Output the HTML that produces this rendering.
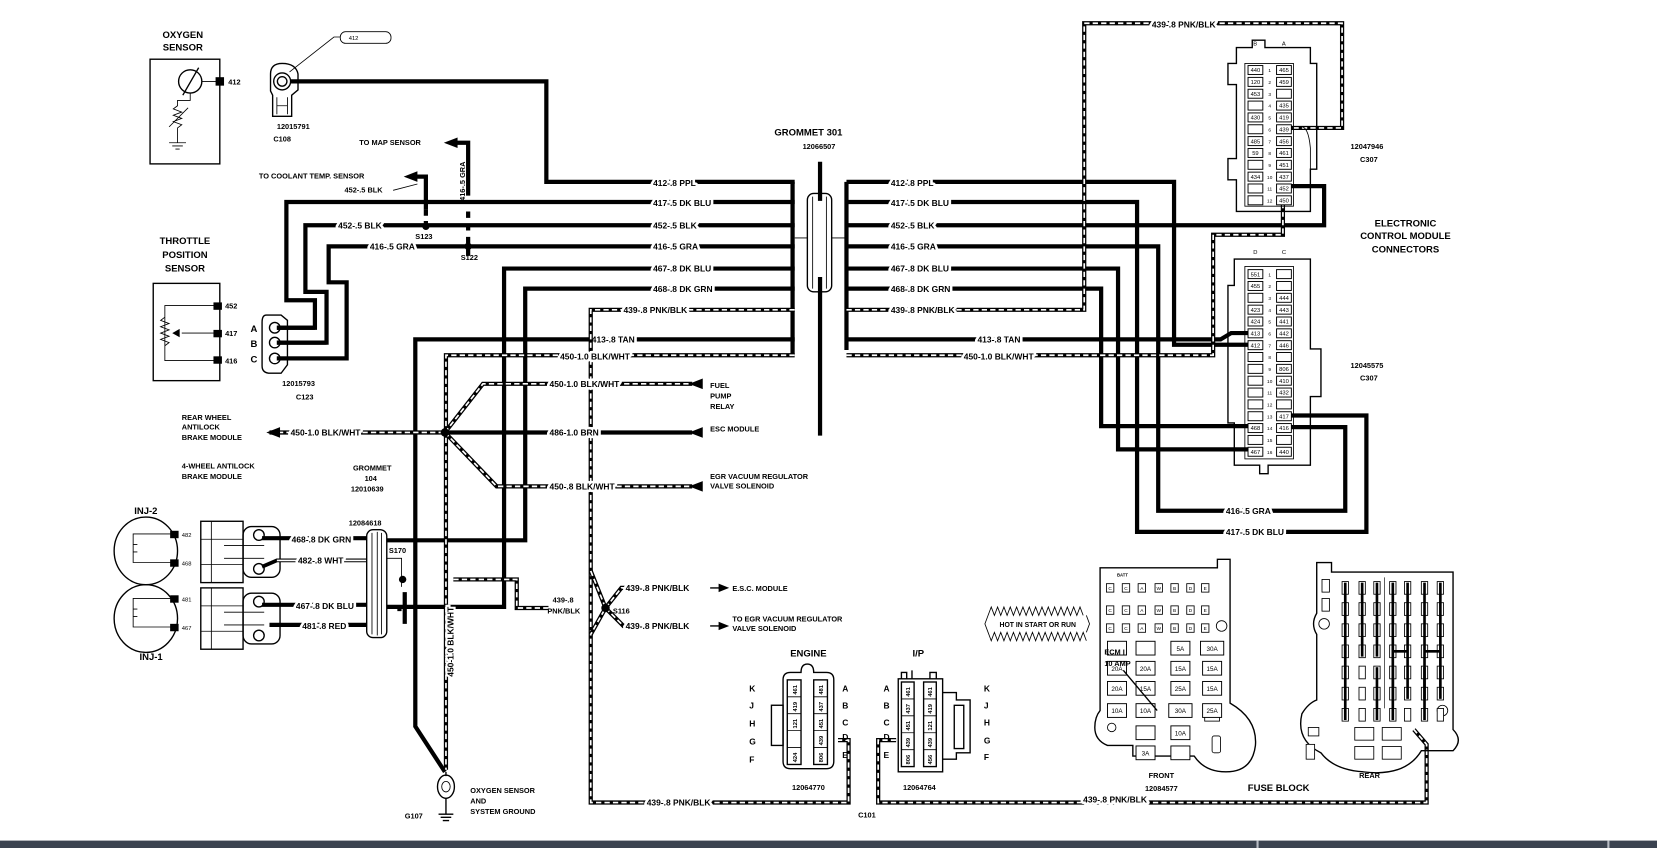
<!DOCTYPE html>
<html><head><meta charset="utf-8"><style>
html,body{margin:0;padding:0;background:#fff;width:1657px;height:848px;overflow:hidden}
svg{display:block}
.w{stroke:#000;stroke-width:4;fill:none}
.wt{stroke:#000;stroke-width:4.5;fill:none}
.dw{stroke:#fff;stroke-width:1.6;fill:none;stroke-dasharray:5 3}
.th{stroke:#000;stroke-width:1.3;fill:none}
.tn{stroke:#000;stroke-width:0.8;fill:none}
text{font-family:"Liberation Sans",sans-serif;font-weight:bold;fill:#000}
.l{font-size:8px;paint-order:stroke;stroke:#fff;stroke-width:5px;stroke-linejoin:round}
.s{font-size:7px}
.m{font-size:9px}
.b{font-size:11px}
.p{font-size:5.5px;font-weight:normal}
</style></head><body>
<svg width="1657" height="848" viewBox="0 0 1568 802" preserveAspectRatio="none" xmlns="http://www.w3.org/2000/svg">
<defs>
<path id="d439L" d="M752,293 H559 V759 H803 V700 H793"/>
<path id="d450L" d="M752,336 H422 V728"/>
<path id="d450r" d="M255,409 H421"/>
<path id="dfp" d="M421,409 L457,363 H655"/>
<path id="degr" d="M421,409 L470,460 H655"/>
<path id="d439s" d="M429,548 H489 V575 H519"/>
<path id="d439b" d="M848,700 H831 V759 H1350 V704 L1338,690"/>
<path id="d439R" d="M801,293 H1026 V22 H1270 V121 H1222"/>
<path id="d450R" d="M801,336 H1148 V222 H1214 V190"/>
<path id="desc" d="M573,575 L588,556 H602"/>
<path id="degr2" d="M573,575 L590,592 H602"/>
<path id="d439u" d="M559,540 L573,575 L559,600"/>
</defs>

<rect x="0" y="795" width="1568" height="7" fill="#3b4350"/>
<rect x="1189" y="795" width="2" height="7" fill="#b8bcc4"/>
<rect x="1521" y="795" width="2" height="7" fill="#b8bcc4"/>

<text class="m" x="173" y="36" text-anchor="middle">OXYGEN</text>
<text class="m" x="173" y="48" text-anchor="middle">SENSOR</text>
<rect x="142" y="56" width="66" height="99" class="th"/>
<circle cx="180" cy="77" r="11" class="th"/>
<line x1="173" y1="90" x2="188" y2="64" class="th"/>
<path d="M191,77 H205 M180,88 V95 L168,95 V100 L164,103 L172,106 L164,109 L172,112 L164,115 L172,118 L168,121 V130 M160,135 H176 M163,138 H173 M166,141 H170 M168,130 V135 M160,120 L178,102" class="tn"/>
<rect x="204" y="73" width="8" height="8"/>
<text class="s" x="216" y="80">412</text>
<path d="M256,70 Q256,60 267,60 Q280,60 282,70 L282,85 L276,90 L276,110 L258,110 L258,90 L256,86 Z" class="th" fill="#fff"/>
<circle cx="267" cy="77" r="8" class="th"/><circle cx="267" cy="77" r="4.5" class="th"/>
<path d="M262,92 V108 M272,92 V108 M262,100 H272" class="tn"/>
<rect x="322" y="30" width="48" height="11" rx="5" class="tn"/>
<text class="p" x="330" y="38">412</text>
<path d="M322,35 H316 L274,68" class="tn"/>
<text class="s" x="262" y="122">12015791</text>
<text class="s" x="267" y="134" text-anchor="middle">C108</text>
<path d="M275,77 H517 V172 H752" class="w"/>

<text class="s" x="340" y="137">TO MAP SENSOR</text>
<path d="M443,185 V135 H430" class="w"/><path d="M433,130 L420,135 L433,140 Z"/>
<path d="M443,200 V244" class="w" stroke-dasharray="6 6"/>
<text class="s" transform="translate(440,190) rotate(-90)">416-.5 GRA</text>
<text class="s" x="245" y="169">TO COOLANT TEMP. SENSOR</text>
<path d="M403,198 V167 H392" class="w"/><path d="M395,162 L382,167 L395,172 Z"/>
<path d="M403,198 V214" class="w" stroke-dasharray="6 5"/>
<text class="s" x="326" y="182">452-.5 BLK</text>
<path d="M372,180 L395,174" class="tn"/>
<circle cx="403" cy="214" r="3.5"/><circle cx="443" cy="233" r="3.5"/>
<text class="s" x="393" y="226">S123</text>
<text class="s" x="436" y="246">S122</text>

<path d="M752,191 H271 V284 H298 V310 H262" class="w"/>
<path d="M752,213 H289 V276 H309 V324 H262" class="w"/>
<path d="M752,233 H311 V267 H328 V339 H262" class="w"/>
<text class="l" x="618" y="176">412-.8 PPL</text>
<text class="l" x="618" y="195">417-.5 DK BLU</text>
<text class="l" x="618" y="216">452-.5 BLK</text>
<text class="l" x="618" y="236">416-.5 GRA</text>
<text class="l" x="320" y="216">452-.5 BLK</text>
<text class="l" x="350" y="236">416-.5 GRA</text>

<text class="m" x="175" y="231" text-anchor="middle">THROTTLE</text>
<text class="m" x="175" y="244" text-anchor="middle">POSITION</text>
<text class="m" x="175" y="257" text-anchor="middle">SENSOR</text>
<rect x="145" y="268" width="63" height="92" class="th"/>
<path d="M204,289 H156 V341 H204 M204,315 H172 M156,300 L152,303 L160,306 L152,309 L160,312 L152,315 L160,318 L152,321 L160,324 L156,327" class="tn"/>
<path d="M163,315 L170,311 V319 Z"/>
<rect x="202" y="286" width="8" height="7"/><rect x="202" y="312" width="8" height="7"/><rect x="202" y="337" width="8" height="7"/>
<text class="s" x="213" y="292">452</text><text class="s" x="213" y="318">417</text><text class="s" x="213" y="344">416</text>
<path d="M252,298 Q248,298 248,305 V346 Q248,353 256,353 H266 L272,345 V303 L266,298 Z" class="th" fill="#fff"/>
<circle cx="260" cy="310" r="5" class="th"/><circle cx="260" cy="324" r="5" class="th"/><circle cx="260" cy="339" r="5" class="th"/>
<path d="M262,310 H298 M262,324 H309 M262,339 H328" class="w"/>
<text class="m" x="237" y="314">A</text><text class="m" x="237" y="328">B</text><text class="m" x="237" y="343">C</text>
<text class="s" x="267" y="365">12015793</text>
<text class="s" x="280" y="378">C123</text>

<text class="m" x="765" y="128" text-anchor="middle">GROMMET 301</text>
<text class="s" x="775" y="141" text-anchor="middle">12066507</text>
<path d="M750,172 V336 M801,172 V331" class="w" stroke-width="3"/>
<path d="M752,225 H764 M787,225 H801" class="tn"/>
<rect x="764" y="183" width="23" height="93" rx="6" class="th" fill="#fff"/>
<path d="M769,186 V273 M782,186 V273" class="tn"/>
<path d="M776,153 V190 M776,262 V412" class="w"/>

<path d="M752,321 H393 V687 L421,730" class="w"/>
<text class="l" x="560" y="324">413-.8 TAN</text>
<path d="M752,254 H477 V574 H366" class="w"/>
<path d="M752,273 H497 V511 H366" class="w"/>
<text class="l" x="618" y="257">467-.8 DK BLU</text>
<text class="l" x="618" y="276">468-.8 DK GRN</text>
<use href="#d439L" class="w"/><use href="#d439L" class="dw"/>
<use href="#d450L" class="w"/><use href="#d450L" class="dw"/>
<text class="l" x="590" y="296">439-.8 PNK/BLK</text>
<text class="l" x="530" y="340">450-1.0 BLK/WHT</text>
<text class="s" transform="translate(429,640) rotate(-90)" style="font-size:8px;paint-order:stroke;stroke:#fff;stroke-width:4px">450-1.0 BLK/WHT</text>

<use href="#d450r" class="w"/><use href="#d450r" class="dw"/>
<path d="M421,409 H655" class="w"/>
<use href="#dfp" class="w"/><use href="#dfp" class="dw"/>
<use href="#degr" class="w"/><use href="#degr" class="dw"/>
<circle cx="421" cy="409" r="4"/>
<path d="M265,404 L252,409 L265,414 Z"/>
<path d="M665,358 L652,363 L665,368 Z M665,404 L652,409 L665,414 Z M665,455 L652,460 L665,465 Z"/>
<text class="l" x="275" y="412">450-1.0 BLK/WHT</text>
<text class="l" x="520" y="366">450-1.0 BLK/WHT</text>
<text class="l" x="520" y="412">486-1.0 BRN</text>
<text class="l" x="520" y="463">450-.8 BLK/WHT</text>
<text class="s" x="672" y="367">FUEL</text><text class="s" x="672" y="377">PUMP</text><text class="s" x="672" y="387">RELAY</text>
<text class="s" x="672" y="408">ESC MODULE</text>
<text class="s" x="672" y="453">EGR VACUUM REGULATOR</text><text class="s" x="672" y="462">VALVE SOLENOID</text>
<text class="s" x="172" y="397">REAR WHEEL</text><text class="s" x="172" y="406">ANTILOCK</text><text class="s" x="172" y="416">BRAKE MODULE</text>
<text class="s" x="172" y="443">4-WHEEL ANTILOCK</text><text class="s" x="172" y="453">BRAKE MODULE</text>
<text class="s" x="334" y="445">GROMMET</text><text class="s" x="345" y="455">104</text><text class="s" x="332" y="465">12010639</text>

<text class="m" x="138" y="486" text-anchor="middle">INJ-2</text>
<text class="m" x="143" y="624" text-anchor="middle">INJ-1</text>
<ellipse cx="138" cy="521" rx="30" ry="32" class="th"/>
<ellipse cx="138" cy="585" rx="30" ry="32" class="th"/>
<path d="M165,505 H126 V532 H165 M165,566 H126 V593 H165 M126,515 h4 M126,522 h4 M126,576 h4 M126,583 h4" class="tn"/>
<rect x="161" y="502" width="8" height="7"/><rect x="161" y="529" width="8" height="7"/>
<rect x="161" y="563" width="8" height="7"/><rect x="161" y="590" width="8" height="7"/>
<text class="p" x="172" y="508">482</text><text class="p" x="172" y="535">468</text>
<text class="p" x="172" y="569">481</text><text class="p" x="172" y="596">467</text>
<g class="th" fill="#fff">
<rect x="190" y="493" width="40" height="58"/><rect x="230" y="498" width="35" height="48" rx="8"/>
<rect x="190" y="556" width="40" height="58"/><rect x="230" y="561" width="35" height="48" rx="8"/>
</g>
<path d="M200,493 V551 M190,510 H230 M190,534 H230 M200,556 V614 M190,573 H230 M190,597 H230 M212,516 H250 M212,528 H250 M212,579 H250 M212,591 H250" class="tn"/>
<circle cx="245" cy="506" r="5" class="th"/><circle cx="245" cy="538" r="5" class="th"/>
<circle cx="245" cy="569" r="5" class="th"/><circle cx="245" cy="601" r="5" class="th"/>
<path d="M248,509 H347 M248,572 H347 M255,591 H347" class="w"/>
<path d="M248,536 L262,530 H347" stroke="#000" stroke-width="3.5" fill="none"/><path d="M262,530 H347" stroke="#fff" stroke-width="1.5"/>
<text class="l" x="276" y="513">468-.8 DK GRN</text>
<text class="l" x="282" y="533">482-.8 WHT</text>
<text class="l" x="280" y="576">467-.8 DK BLU</text>
<text class="l" x="286" y="595">481-.8 RED</text>
<text class="s" x="330" y="497">12084618</text>
<rect x="347" y="501" width="19" height="102" rx="6" class="th" fill="#fff"/>
<path d="M352,504 V600 M357,503 V601 M361,504 V600" class="tn"/>
<text class="s" x="368" y="523">S170</text>
<path d="M366,528 H380 V555" class="tn"/>
<circle cx="381" cy="548" r="3.5"/>
<path d="M383,560 V590 M378,575 V578" class="w"/>
<use href="#d439s" class="w"/><use href="#d439s" class="dw"/>
<use href="#d439u" class="w"/><use href="#d439u" class="dw"/>
<use href="#desc" class="w"/><use href="#desc" class="dw"/>
<use href="#degr2" class="w"/><use href="#degr2" class="dw"/>
<circle cx="573" cy="575" r="4"/>
<text class="s" x="523" y="570">439-.8</text><text class="s" x="518" y="580">PNK/BLK</text>
<text class="s" x="580" y="580">S116</text>
<text class="l" x="592" y="559">439-.8 PNK/BLK</text>
<text class="l" x="592" y="595">439-.8 PNK/BLK</text>
<path d="M672,556 H682 M672,592 H682" class="th"/><path d="M680,552 L690,556 L680,560 Z M680,588 L690,592 L680,596 Z"/>
<text class="s" x="693" y="559">E.S.C. MODULE</text>
<text class="s" x="693" y="588">TO EGR VACUUM REGULATOR</text><text class="s" x="693" y="597">VALVE SOLENOID</text>

<ellipse cx="422" cy="744" rx="8" ry="11" class="th"/><ellipse cx="422" cy="744" rx="4" ry="5" class="tn"/>
<path d="M422,730 V734 M422,755 V770 M415,770 H429 M417,773 H427 M419,776 H425" class="th"/>
<text class="s" x="383" y="774">G107</text>
<text class="s" x="445" y="750">OXYGEN SENSOR</text><text class="s" x="445" y="760">AND</text><text class="s" x="445" y="770">SYSTEM GROUND</text>

<text class="m" x="765" y="621" text-anchor="middle">ENGINE</text>
<text class="m" x="869" y="621" text-anchor="middle">I/P</text>
<path d="M748,636 H758 Q758,628 764,628 Q770,628 770,636 H782 Q789,636 789,643 V720 Q789,727 782,727 H748 Q741,727 741,720 V643 Q741,636 748,636 Z" class="th"/>
<rect x="730" y="667" width="11" height="38" class="th"/>
<g class="th"><rect x="745" y="643" width="13" height="80"/><rect x="770" y="643" width="13" height="80"/></g>
<path d="M745,659 h13 M745,675 h13 M745,691 h13 M745,707 h13 M770,659 h13 M770,675 h13 M770,691 h13 M770,707 h13" class="tn"/>
<g class="p">
<text transform="translate(754,657) rotate(-90)">461</text><text transform="translate(754,673) rotate(-90)">419</text><text transform="translate(754,689) rotate(-90)">121</text><text transform="translate(754,721) rotate(-90)">424</text>
<text transform="translate(779,657) rotate(-90)">481</text><text transform="translate(779,673) rotate(-90)">437</text><text transform="translate(779,689) rotate(-90)">451</text><text transform="translate(779,705) rotate(-90)">439</text><text transform="translate(779,721) rotate(-90)">806</text>
</g>
<g class="s" style="font-size:8px"><text x="709" y="654">K</text><text x="709" y="670">J</text><text x="709" y="687">H</text><text x="709" y="704">G</text><text x="709" y="721">F</text>
<text x="797" y="654">A</text><text x="797" y="670">B</text><text x="797" y="686">C</text><text x="797" y="700">D</text><text x="797" y="717">E</text>
<text x="836" y="654">A</text><text x="836" y="670">B</text><text x="836" y="686">C</text><text x="836" y="700">D</text><text x="836" y="717">E</text>
<text x="931" y="654">K</text><text x="931" y="670">J</text><text x="931" y="686">H</text><text x="931" y="703">G</text><text x="931" y="719">F</text></g>
<path d="M850,642 H892 V730 H850 Z" class="th"/>
<path d="M853,642 V636 H858 V642 M863,642 V634 M880,642 V636 H886 V642 M892,655 H905 V662 H918 V712 H905 V718 H892 M903,667 H912 V708 H903 Z" class="th"/>
<g class="th"><rect x="853" y="645" width="12" height="80"/><rect x="874" y="645" width="12" height="80"/></g>
<path d="M853,661 h12 M853,677 h12 M853,693 h12 M853,709 h12 M874,661 h12 M874,677 h12 M874,693 h12 M874,709 h12" class="tn"/>
<g class="p">
<text transform="translate(861,659) rotate(-90)">461</text><text transform="translate(861,675) rotate(-90)">437</text><text transform="translate(861,691) rotate(-90)">451</text><text transform="translate(861,707) rotate(-90)">439</text><text transform="translate(861,723) rotate(-90)">806</text>
<text transform="translate(882,659) rotate(-90)">461</text><text transform="translate(882,675) rotate(-90)">419</text><text transform="translate(882,691) rotate(-90)">121</text><text transform="translate(882,707) rotate(-90)">439</text><text transform="translate(882,723) rotate(-90)">456</text>
</g>
<text class="s" x="765" y="747" text-anchor="middle">12064770</text>
<text class="s" x="870" y="747" text-anchor="middle">12064764</text>
<text class="s" x="812" y="773">C101</text>
<use href="#d439b" class="w"/><use href="#d439b" class="dw"/>
<text class="l" x="1025" y="759">439-.8 PNK/BLK</text>
<text class="l" x="612" y="762">439-.8 PNK/BLK</text>

<path d="M801,172 H1111 V326 H1181" class="w"/>
<path d="M801,191 H1076 V503 H1293 V393 H1222" class="w"/>
<path d="M801,213 H1253 V176 H1222" class="w"/>
<path d="M801,233 H1096 V483 H1273 V404 H1222" class="w"/>
<path d="M801,254 H1058 V425 H1181" class="w"/>
<path d="M801,273 H1042 V403 H1181" class="w"/>
<path d="M801,321 H1155 L1165,315 H1181" class="w"/>
<use href="#d439R" class="w"/><use href="#d439R" class="dw"/>
<use href="#d450R" class="w"/><use href="#d450R" class="dw"/>
<text class="l" x="843" y="176">412-.8 PPL</text>
<text class="l" x="843" y="195">417-.5 DK BLU</text>
<text class="l" x="843" y="216">452-.5 BLK</text>
<text class="l" x="843" y="236">416-.5 GRA</text>
<text class="l" x="843" y="257">467-.8 DK BLU</text>
<text class="l" x="843" y="276">468-.8 DK GRN</text>
<text class="l" x="843" y="296">439-.8 PNK/BLK</text>
<text class="l" x="925" y="324">413-.8 TAN</text>
<text class="l" x="912" y="340">450-1.0 BLK/WHT</text>
<text class="l" x="1090" y="26">439-.8 PNK/BLK</text>
<text class="l" x="1160" y="486">416-.5 GRA</text>
<text class="l" x="1160" y="506">417-.5 DK BLU</text>

<path d="M1170,45 H1185 V38 H1197 V45 H1240 V60 H1246 V160 H1240 V200 H1170 V170 H1162 V150 H1170 V80 H1162 V60 H1170 Z" class="th" fill="#fff"/>
<path d="M1230,120 Q1238,118 1240,140 V165" class="tn"/>
<rect x="1178" y="60" width="46" height="135" class="tn"/>
<path d="M1172,245 H1240 V330 H1250 V375 H1240 V440 H1200 V448 H1192 V440 H1168 V400 H1162 V270 H1168 V245 Z" class="th" fill="#fff"/>
<rect x="1178" y="252" width="46" height="182" class="tn"/>
<text class="p" x="1186" y="43">B</text><text class="p" x="1213" y="43">A</text>
<text class="p" x="1186" y="240">D</text><text class="p" x="1213" y="240">C</text>
<g id="pins"></g>
<text class="s" x="1278" y="141">12047946</text><text class="s" x="1287" y="153">C307</text>
<text class="s" x="1278" y="348">12045575</text><text class="s" x="1287" y="360">C307</text>
<text class="m" x="1330" y="214" text-anchor="middle">ELECTRONIC</text>
<text class="m" x="1330" y="226" text-anchor="middle">CONTROL MODULE</text>
<text class="m" x="1330" y="239" text-anchor="middle">CONNECTORS</text>

<path d="M1041,537 H1152 V529 H1164 V665 Q1190,680 1188,705 Q1185,730 1160,730 Q1140,730 1130,715 H1072 V705 H1048 Q1036,700 1036,688 Q1036,678 1041,672 Z" class="th" fill="#fff"/>
<circle cx="1052" cy="688" r="4" class="tn"/><circle cx="1156" cy="592" r="5" class="tn"/>
<rect x="1147" y="696" width="8" height="16" rx="2" class="tn"/><rect x="1140" y="672" width="14" height="10" class="tn"/>
<path d="M1246,532 H1260 V541 H1375 V690 Q1385,700 1375,710 H1345 Q1330,735 1290,730 Q1262,728 1250,712 Q1226,700 1232,675 Q1238,665 1246,662 V600 Q1240,590 1246,580 Z" class="th" fill="#fff"/>
<circle cx="1253" cy="590" r="5" class="tn"/><circle cx="1365" cy="672" r="5" class="tn"/>
<g id="fuses"></g>
<text class="s" x="1057" y="545" style="font-size:4px">BATT</text>
<text class="s" x="1045" y="619">ECM I</text><text class="s" x="1045" y="630">10 AMP</text>
<path d="M1063,634 L1095,672" class="th"/>
<path d="M935,582 l3,-8 l3,8 l3,-8 l3,8 l3,-8 l3,8 l3,-8 l3,8 l3,-8 l3,8 l3,-8 l3,8 l3,-8 l3,8 l3,-8 l3,8 l3,-8 l3,8 l3,-8 l3,8 l3,-8 l3,8 l3,-8 l3,8 l3,-8 l3,8 l3,-8 l3,8 l3,-8 l3,8 M935,598 l3,8 l3,-8 l3,8 l3,-8 l3,8 l3,-8 l3,8 l3,-8 l3,8 l3,-8 l3,8 l3,-8 l3,8 l3,-8 l3,8 l3,-8 l3,8 l3,-8 l3,8 l3,-8 l3,8 l3,-8 l3,8 l3,-8 l3,8 l3,-8 l3,8 l3,-8 l3,8 l3,-8 l3,8 M935,582 l-3,8 l3,8 M1028,582 l3,8 l-3,8" class="tn"/>
<text class="s" x="982" y="593" text-anchor="middle" style="font-size:6.5px">HOT IN START OR RUN</text>
<text class="s" x="1099" y="736" text-anchor="middle">FRONT</text>
<text class="s" x="1099" y="748" text-anchor="middle">12084577</text>
<text class="m" x="1210" y="748" text-anchor="middle">FUSE BLOCK</text>
<text class="s" x="1296" y="736" text-anchor="middle">REAR</text>
</svg>
<script>
(function(){
var NS="http://www.w3.org/2000/svg";
function el(p,n,a,t){var e=document.createElementNS(NS,n);for(var k in a)e.setAttribute(k,a[k]);if(t)e.textContent=t;p.appendChild(e);return e;}
var g=document.getElementById("pins");
var up=[["440","465"],["120","459"],["453",""],["","435"],["430","419"],["","439"],["485","456"],["59","461"],["","451"],["434","437"],["","452"],["","450"]];
var lo=[["551",""],["455",""],["","444"],["423","443"],["424","441"],["413","442"],["412","446"],["",""],["","806"],["","410"],["","432"],["",""],["","417"],["468","416"],["",""],["467","440"]];
function grid(list,y0){for(var i=0;i<list.length;i++){var y=y0+i*11.2;
el(g,"rect",{x:1181,y:y-4,width:14,height:8.5,fill:"#fff",stroke:"#000","stroke-width":0.9});
el(g,"rect",{x:1208,y:y-4,width:14,height:8.5,fill:"#fff",stroke:"#000","stroke-width":0.9});
if(list[i][0])el(g,"text",{x:1188,y:y+2.3,"text-anchor":"middle","class":"p"},list[i][0]);
if(list[i][1])el(g,"text",{x:1215,y:y+2.3,"text-anchor":"middle","class":"p"},list[i][1]);
el(g,"text",{x:1201.5,y:y+2.3,"text-anchor":"middle","class":"p",style:"font-size:4.5px"},String(i+1));}}
grid(up,66);grid(lo,259);
var f=document.getElementById("fuses");
var sx=[1050,1065,1080,1096,1111,1126,1140],sy=[556,577,594],ch=["C","C","A","W","B","D","E"];
for(var r=0;r<3;r++)for(var c=0;c<7;c++){el(f,"rect",{x:sx[c]-3,y:sy[r]-4,width:7,height:8,fill:"none",stroke:"#000","stroke-width":0.8});el(f,"text",{x:sx[c]+0.5,y:sy[r]+2,"text-anchor":"middle","class":"p",style:"font-size:4.5px"},ch[c]);}
var fx=[1057,1084,1117,1147],fy=[613,632,651,672,693,712];
var lab=[["","","5A","30A"],["20A","20A","15A","15A"],["20A","15A","25A","15A"],["10A","10A","30A","25A"],[null,"","10A",null],[null,"3A","",null]];
for(var r=0;r<6;r++)for(var c=0;c<4;c++){if(lab[r][c]===null)continue;var w=(c==3&&r==0)||(c==2&&r==3)?22:18;
el(f,"rect",{x:fx[c]-w/2,y:fy[r]-6.5,width:w,height:13,fill:"#fff",stroke:"#000","stroke-width":0.9});
if(lab[r][c])el(f,"text",{x:fx[c],y:fy[r]+2.5,"text-anchor":"middle","class":"p",style:"font-size:6px"},lab[r][c]);}
var rx=[1273,1289,1303,1318,1332,1348,1363],ry=[556,576,596,616,636,656,676];
el(f,"rect",{x:1251,y:548,width:7,height:12,fill:"none",stroke:"#000","stroke-width":0.8});
el(f,"rect",{x:1251,y:566,width:7,height:12,fill:"none",stroke:"#000","stroke-width":0.8});
for(var c=0;c<7;c++){for(var r=0;r<7;r++){
el(f,"rect",{x:rx[c]-3,y:ry[r]-6,width:6,height:12,fill:"#fff",stroke:"#000","stroke-width":0.8});}}
var bars=[[0,0,3],[1,0,3],[2,0,3],[3,0,5],[4,0,5],[5,0,5],[6,0,5],[0,3,6],[2,4,6],[3,4,6],[5,4,6]];
bars.forEach(function(b){el(f,"line",{x1:rx[b[0]],y1:ry[b[1]]-5,x2:rx[b[0]],y2:ry[b[2]]+5,stroke:"#000","stroke-width":2.5});});
el(f,"line",{x1:rx[3],y1:616,x2:rx[4],y2:616,stroke:"#000","stroke-width":2.5});
el(f,"line",{x1:rx[5],y1:616,x2:rx[6],y2:616,stroke:"#000","stroke-width":2.5});
el(f,"line",{x1:1310,y1:546,x2:1310,y2:670,stroke:"#000","stroke-width":0.6});
el(f,"rect",{x:1282,y:688,width:18,height:12,fill:"#fff",stroke:"#000","stroke-width":0.8});
el(f,"rect",{x:1308,y:688,width:18,height:12,fill:"#fff",stroke:"#000","stroke-width":0.8});
el(f,"rect",{x:1282,y:706,width:18,height:12,fill:"#fff",stroke:"#000","stroke-width":0.8});
el(f,"rect",{x:1308,y:706,width:18,height:12,fill:"#fff",stroke:"#000","stroke-width":0.8});
el(f,"rect",{x:1238,y:688,width:10,height:8,fill:"#fff",stroke:"#000","stroke-width":0.8});
el(f,"rect",{x:1236,y:704,width:8,height:14,fill:"#fff",stroke:"#000","stroke-width":0.8});
})();
</script>
</body></html>
